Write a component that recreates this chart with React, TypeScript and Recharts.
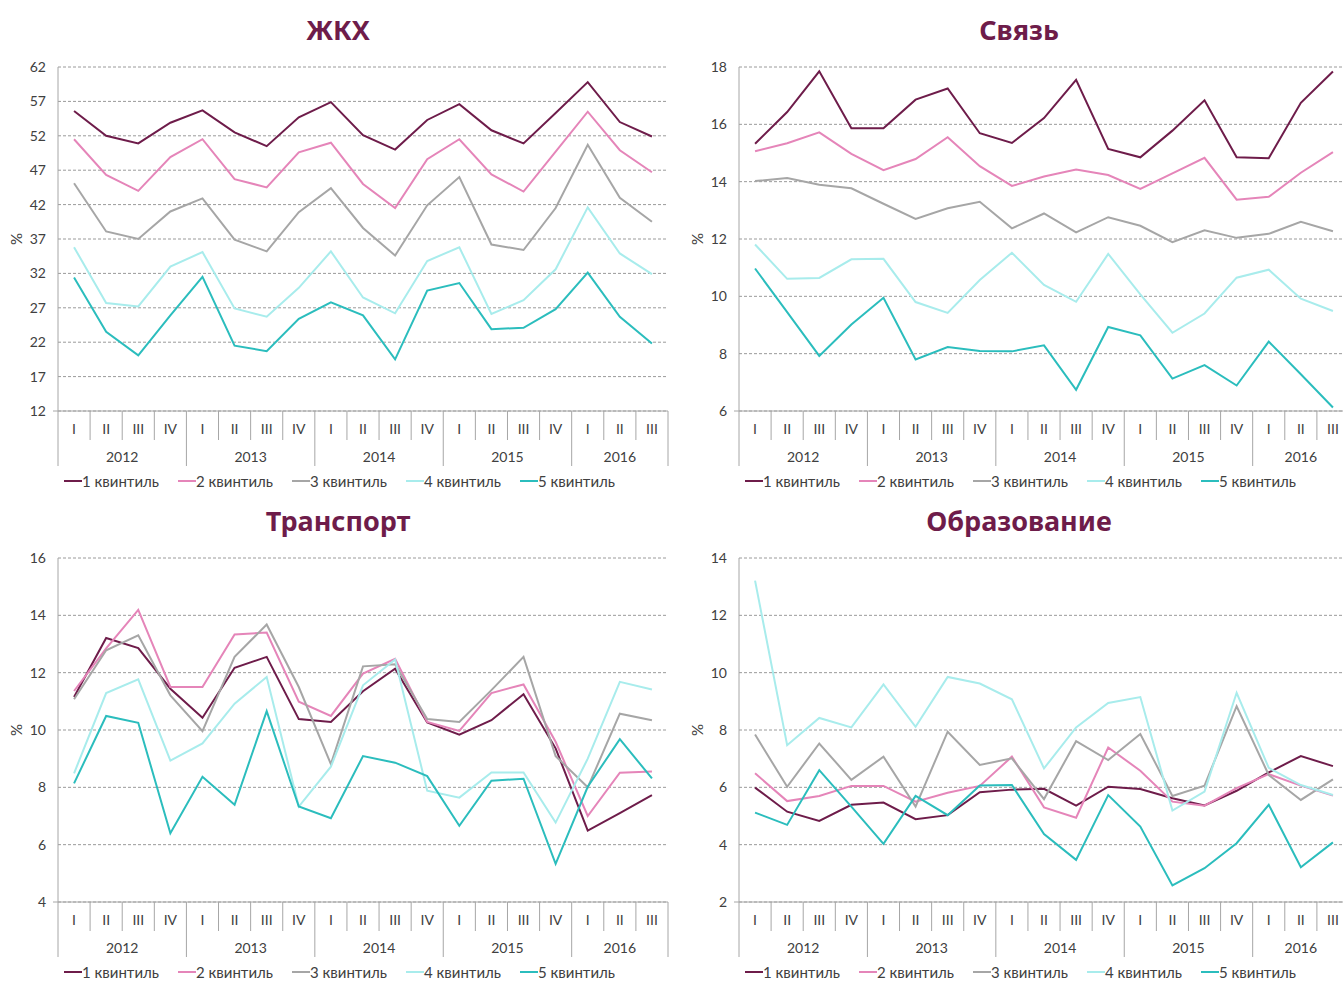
import React from 'react';
import { LineChart, Line, XAxis, YAxis, CartesianGrid } from 'recharts';

const QUARTERS = ['I','II','III','IV','I','II','III','IV','I','II','III','IV','I','II','III','IV','I','II','III'];
const YEARS = ['2012','2012','2012','2012','2013','2013','2013','2013','2014','2014','2014','2014','2015','2015','2015','2015','2016','2016','2016'];

const SERIES_NAMES = ['1 квинтиль','2 квинтиль','3 квинтиль','4 квинтиль','5 квинтиль'];
const SERIES_COLORS = ['#6E1C4A','#E585B9','#A6A6A6','#A8ECEC','#2BBDBD'];

const zhkh1 = [55.6, 52.0, 50.9, 53.9, 55.7, 52.5, 50.5, 54.7, 56.9, 52.1, 50.0, 54.3, 56.6, 52.8, 50.9, 55.3, 59.8, 54.0, 51.9];
const zhkh2 = [51.5, 46.3, 44.0, 48.9, 51.5, 45.7, 44.5, 49.6, 51.0, 45.0, 41.5, 48.6, 51.5, 46.4, 43.9, 49.7, 55.5, 49.9, 46.7];
const zhkh3 = [45.1, 38.1, 37.0, 41.0, 42.9, 36.9, 35.2, 40.9, 44.4, 38.6, 34.6, 41.9, 46.0, 36.2, 35.4, 41.5, 50.7, 43.0, 39.5];
const zhkh4 = [35.8, 27.7, 27.2, 33.0, 35.1, 26.9, 25.7, 29.9, 35.2, 28.5, 26.2, 33.8, 35.8, 26.1, 28.1, 32.6, 41.6, 34.9, 31.9];
const zhkh5 = [31.4, 23.5, 20.1, 25.9, 31.5, 21.5, 20.7, 25.4, 27.8, 25.9, 19.5, 29.5, 30.6, 23.9, 24.1, 26.8, 32.1, 25.7, 21.8];

const svyaz1 = [15.32, 16.43, 17.85, 15.86, 15.86, 16.86, 17.25, 15.69, 15.35, 16.22, 17.55, 15.14, 14.85, 15.78, 16.84, 14.85, 14.82, 16.75, 17.84];
const svyaz2 = [15.06, 15.34, 15.72, 14.97, 14.40, 14.79, 15.55, 14.54, 13.85, 14.18, 14.42, 14.23, 13.75, 14.29, 14.83, 13.37, 13.47, 14.31, 15.03];
const svyaz3 = [14.02, 14.13, 13.89, 13.77, 13.23, 12.70, 13.07, 13.30, 12.37, 12.89, 12.23, 12.76, 12.46, 11.89, 12.30, 12.04, 12.18, 12.60, 12.27];
const svyaz4 = [11.81, 10.61, 10.64, 11.29, 11.31, 9.80, 9.42, 10.57, 11.52, 10.40, 9.81, 11.48, 10.07, 8.73, 9.40, 10.65, 10.93, 9.92, 9.49];
const svyaz5 = [10.97, 9.45, 7.92, 9.02, 9.95, 7.80, 8.23, 8.09, 8.08, 8.29, 6.74, 8.93, 8.64, 7.13, 7.60, 6.89, 8.42, 7.28, 6.12];

const transport1 = [11.15, 13.21, 12.86, 11.44, 10.43, 12.17, 12.55, 10.38, 10.28, 11.35, 12.14, 10.26, 9.84, 10.34, 11.25, 9.36, 6.49, 7.10, 7.73];
const transport2 = [11.36, 12.85, 14.19, 11.50, 11.50, 13.33, 13.40, 10.99, 10.49, 11.97, 12.48, 10.28, 9.97, 11.29, 11.59, 9.59, 7.00, 8.51, 8.55];
const transport3 = [11.07, 12.78, 13.30, 11.21, 9.96, 12.55, 13.68, 11.50, 8.81, 12.22, 12.29, 10.38, 10.28, 11.39, 12.55, 9.09, 8.00, 10.57, 10.34];
const transport4 = [8.49, 11.29, 11.77, 8.93, 9.53, 10.92, 11.85, 7.33, 8.72, 11.56, 12.46, 7.88, 7.64, 8.52, 8.52, 6.77, 9.0, 11.68, 11.41];
const transport5 = [8.14, 10.49, 10.25, 6.40, 8.37, 7.39, 10.66, 7.33, 6.92, 9.09, 8.86, 8.39, 6.66, 8.23, 8.30, 5.33, 8.02, 9.68, 8.31];

const edu1 = [5.99, 5.15, 4.83, 5.39, 5.47, 4.89, 5.03, 5.83, 5.92, 5.95, 5.36, 6.02, 5.94, 5.62, 5.37, 5.88, 6.52, 7.09, 6.74];
const edu2 = [6.49, 5.52, 5.70, 6.05, 6.05, 5.50, 5.81, 6.05, 7.07, 5.30, 4.94, 7.39, 6.58, 5.50, 5.36, 5.97, 6.46, 6.06, 5.71];
const edu3 = [7.84, 6.02, 7.53, 6.26, 7.07, 5.33, 7.94, 6.78, 7.01, 5.59, 7.61, 6.95, 7.86, 5.70, 6.06, 8.83, 6.43, 5.56, 6.28];
const edu4 = [13.21, 7.47, 8.42, 8.09, 9.59, 8.11, 9.85, 9.62, 9.07, 6.66, 8.09, 8.94, 9.15, 5.19, 5.85, 9.30, 6.68, 6.08, 5.73];
const edu5 = [5.12, 4.69, 6.60, 5.33, 4.03, 5.70, 5.03, 6.06, 6.08, 4.37, 3.47, 5.73, 4.63, 2.58, 3.18, 4.05, 5.39, 3.21, 4.08];

const zhkhTicks = [12, 17, 22, 27, 32, 37, 42, 47, 52, 57, 62];
const svyazTicks = [6, 8, 10, 12, 14, 16, 18];
const transportTicks = [4, 6, 8, 10, 12, 14, 16];
const eduTicks = [2, 4, 6, 8, 10, 12, 14];

const FONT = 'Lato, "Open Sans", sans-serif';
const TITLE_FONT = '"Noto Sans", "Open Sans", sans-serif';
const TEXT_COLOR = '#404040';
const AXIS_COLOR = '#A6A6A6';
const TITLE_COLOR = '#6E1C4A';

const CHART_W = 680;
const CHART_H = 495;
const MARGIN = { top: 67, right: 12, bottom: 29, left: 0 };
const Y_AXIS_W = 58;
const X_AXIS_H = 55;
const PLOT_W = CHART_W - MARGIN.left - MARGIN.right - Y_AXIS_W;
const N = QUARTERS.length;
const BW = PLOT_W / N;

const KEYS = QUARTERS.map((q, i) => `${YEARS[i]}-${q}`);

function buildRows(series: number[][]) {
  return KEYS.map((k, i) => {
    const row: any = { key: k };
    series.forEach((s, j) => { row[`s${j}`] = s[i]; });
    return row;
  });
}

const yearGroups: { year: string; first: number; last: number }[] = [];
YEARS.forEach((y, i) => {
  const g = yearGroups[yearGroups.length - 1];
  if (g && g.year === y) g.last = i; else yearGroups.push({ year: y, first: i, last: i });
});

const XTick = (props: any) => {
  const { x, y, payload } = props;
  const i = KEYS.indexOf(payload.value);
  if (i < 0) return null;
  const left = x - BW / 2;
  const right = x + BW / 2;
  const isYearStart = i === 0 || YEARS[i] !== YEARS[i - 1];
  const isLast = i === N - 1;
  const group = yearGroups.find(g => g.year === YEARS[i])!;
  const center = (group.first + group.last) / 2;
  const showYear = Math.floor(center) === i;
  const yearX = x + (center - i) * BW;
  return (
    <g>
      {i === 0 && <line x1={left - 5} x2={left} y1={y} y2={y} stroke={AXIS_COLOR} strokeWidth={1} />}
      <line x1={left} x2={left} y1={y} y2={y + (isYearStart ? 55 : 29)} stroke={AXIS_COLOR} strokeWidth={1} />
      {isLast && <line x1={right} x2={right} y1={y} y2={y + 55} stroke={AXIS_COLOR} strokeWidth={1} />}
      <text x={x} y={y + 19} textAnchor="middle" dominantBaseline="middle" fill={TEXT_COLOR} fontSize={14} fontFamily={FONT}>{QUARTERS[i]}</text>
      {showYear && <text x={yearX} y={y + 47} textAnchor="middle" dominantBaseline="middle" fill={TEXT_COLOR} fontSize={14} fontFamily={FONT}>{YEARS[i]}</text>}
    </g>
  );
};

const PctLabel = (props: any) => {
  const vb = props.viewBox || { y: MARGIN.top, height: CHART_H - MARGIN.top - MARGIN.bottom - X_AXIS_H };
  const cx = 18;
  const cy = vb.y + vb.height / 2;
  return (
    <text x={cx} y={cy} transform={`rotate(-90 ${cx} ${cy})`} textAnchor="middle" dominantBaseline="middle" fill={TEXT_COLOR} fontSize={15} fontFamily={FONT}>%</text>
  );
};

function Panel({ title, series, ticks, left, top }: { title: string; series: number[][]; ticks: number[]; left: number; top: number }) {
  const rows = buildRows(series);
  return (
    <div style={{ position: 'absolute', left, top, width: CHART_W, height: CHART_H }}>
      <div style={{ position: 'absolute', left: 0, top: 12, width: 676, textAlign: 'center', fontFamily: TITLE_FONT, fontWeight: 700, fontSize: 27, color: TITLE_COLOR, lineHeight: '36px' }}>{title}</div>
      <LineChart width={CHART_W} height={CHART_H} data={rows} margin={MARGIN}>
        <CartesianGrid vertical={false} stroke="#9A9A9A" strokeDasharray="3 2" />
        <XAxis
          dataKey="key"
          type="category"
          height={X_AXIS_H}
          interval={0}
          padding={{ left: BW / 2, right: BW / 2 }}
          tickSize={0}
          tickMargin={0}
          tickLine={false}
          axisLine={{ stroke: AXIS_COLOR, strokeWidth: 1 }}
          tick={<XTick />}
        />
        <YAxis
          width={Y_AXIS_W}
          domain={[ticks[0], ticks[ticks.length - 1]]}
          ticks={ticks}
          interval={0}
          tickSize={0}
          tickMargin={12}
          tickLine={false}
          axisLine={{ stroke: AXIS_COLOR, strokeWidth: 1 }}
          tick={{ fill: TEXT_COLOR, fontSize: 14, fontFamily: FONT }}
          label={PctLabel}
        />
        {series.map((_, j) => (
          <Line key={j} dataKey={`s${j}`} name={SERIES_NAMES[j]} stroke={SERIES_COLORS[j]} strokeWidth={2} dot={false} activeDot={false} isAnimationActive={false} />
        ))}
      </LineChart>
      <div style={{ position: 'absolute', left: 64, top: 472, height: 18, whiteSpace: 'nowrap' }}>
        {SERIES_NAMES.map((n, j) => (
          <div key={j} style={{ position: 'absolute', left: j * 114, top: 0, display: 'flex', alignItems: 'center', height: 18, fontFamily: FONT, fontSize: 15, color: TEXT_COLOR }}>
            <span style={{ display: 'inline-block', width: 18, height: 2, background: SERIES_COLORS[j] }} />
            <span>{n}</span>
          </div>
        ))}
      </div>
    </div>
  );
}

export default function App() {
  return (
    <div style={{ position: 'absolute', left: 0, top: 0, width: 1343, height: 981, overflow: 'hidden', background: '#fff' }}>
      <Panel title="ЖКХ" series={[zhkh1, zhkh2, zhkh3, zhkh4, zhkh5]} ticks={zhkhTicks} left={0} top={0} />
      <Panel title="Связь" series={[svyaz1, svyaz2, svyaz3, svyaz4, svyaz5]} ticks={svyazTicks} left={681} top={0} />
      <Panel title="Транспорт" series={[transport1, transport2, transport3, transport4, transport5]} ticks={transportTicks} left={0} top={491} />
      <Panel title="Образование" series={[edu1, edu2, edu3, edu4, edu5]} ticks={eduTicks} left={681} top={491} />
    </div>
  );
}
